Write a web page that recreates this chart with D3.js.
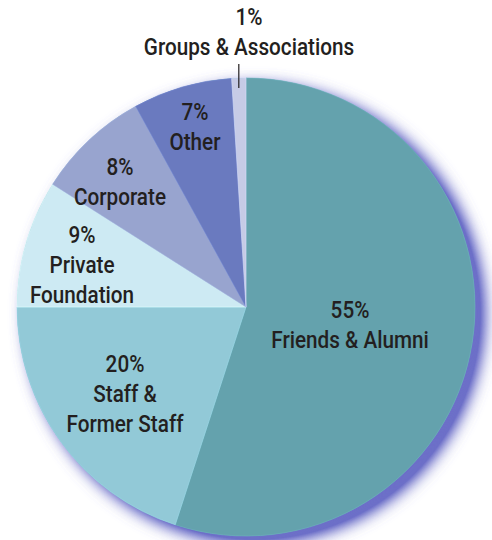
<!DOCTYPE html>
<html><head><meta charset="utf-8">
<script src="https://cdn.jsdelivr.net/npm/d3@7"></script>
<style>body{margin:0;background:#fff}svg{display:block}</style>
</head><body>
<svg id="chart" width="492" height="540"></svg>
<script>
const categories = ["Friends & Alumni","Staff & Former Staff","Private Foundation","Corporate","Other","Groups & Associations"];
const values = [55,20,9,8,7,1];
const colors = ["#64a2ad","#92c9d7","#cdeaf3","#98a4cf","#6a7abf","#c6cbe6"];
const labelLines = [["55%","Friends & Alumni"],["20%","Staff &","Former Staff"],["9%","Private","Foundation"],["8%","Corporate"],["7%","Other"],["1%","Groups & Associations"]];

const svg = d3.select("#chart");
const cx = 246, cy = 307, r = 229;
const defs = svg.append("defs");
const f = defs.append("filter").attr("id","glow").attr("x","-20%").attr("y","-20%").attr("width","140%").attr("height","140%");
f.append("feGaussianBlur").attr("in","SourceAlpha").attr("stdDeviation",8).attr("result","b");
f.append("feOffset").attr("in","b").attr("dx",9).attr("dy",7).attr("result","o");
f.append("feFlood").attr("flood-color","#6c6fc8").attr("result","c");
f.append("feComposite").attr("in","c").attr("in2","o").attr("operator","in").attr("result","s");
f.append("feComponentTransfer").attr("in","s").attr("result","s2")
  .append("feFuncA").attr("type","linear").attr("slope",1.5);
const m = f.append("feMerge");
m.append("feMergeNode").attr("in","s2");
m.append("feMergeNode").attr("in","SourceGraphic");

const data = categories.map((c,i)=>({c, v:values[i], col:colors[i], lines:labelLines[i]}));
const pie = d3.pie().value(d=>d.v).sort(null);
const arcs = pie(data);
const arc = d3.arc().innerRadius(0).outerRadius(r);

const g = svg.append("g").attr("transform",`translate(${cx},${cy})`);
g.append("circle").attr("r",r).attr("fill","#64a2ad").attr("filter","url(#glow)");
g.selectAll("path").data(arcs).enter().append("path")
  .attr("d",arc).attr("fill",d=>d.data.col)
  .attr("stroke",d=>d3.color(d.data.col).brighter(0.25)).attr("stroke-width",0.6);

// label positions (centre x, first baseline)
const labelPos = [[350,318],[125,372],[82,243],[120,175],[195,120],[249,25]];
const lineH = 30;
const font = "Roboto,'Liberation Sans',sans-serif";
const sx = 0.9;
data.forEach((d,i)=>{
  const [x,y] = labelPos[i];
  const t = svg.append("g").attr("transform",`translate(${x},0) scale(${sx},1)`)
    .append("text").attr("text-anchor","middle")
    .attr("font-family",font).attr("font-size",23).attr("font-weight",500).attr("fill","#231f20");
  d.lines.forEach((ln,j)=>{
    t.append("tspan").attr("x",0).attr("y",y+j*lineH).text(ln);
  });
});
// leader line for the 1% slice
const mid = (arcs[5].startAngle+arcs[5].endAngle)/2;
const lx = cx + Math.sin(mid)*r;
svg.append("line").attr("x1",lx).attr("x2",lx).attr("y1",64).attr("y2",cy-Math.cos(mid)*r+10)
  .attr("stroke","#231f20").attr("stroke-width",1.2);
</script>
</body></html>
